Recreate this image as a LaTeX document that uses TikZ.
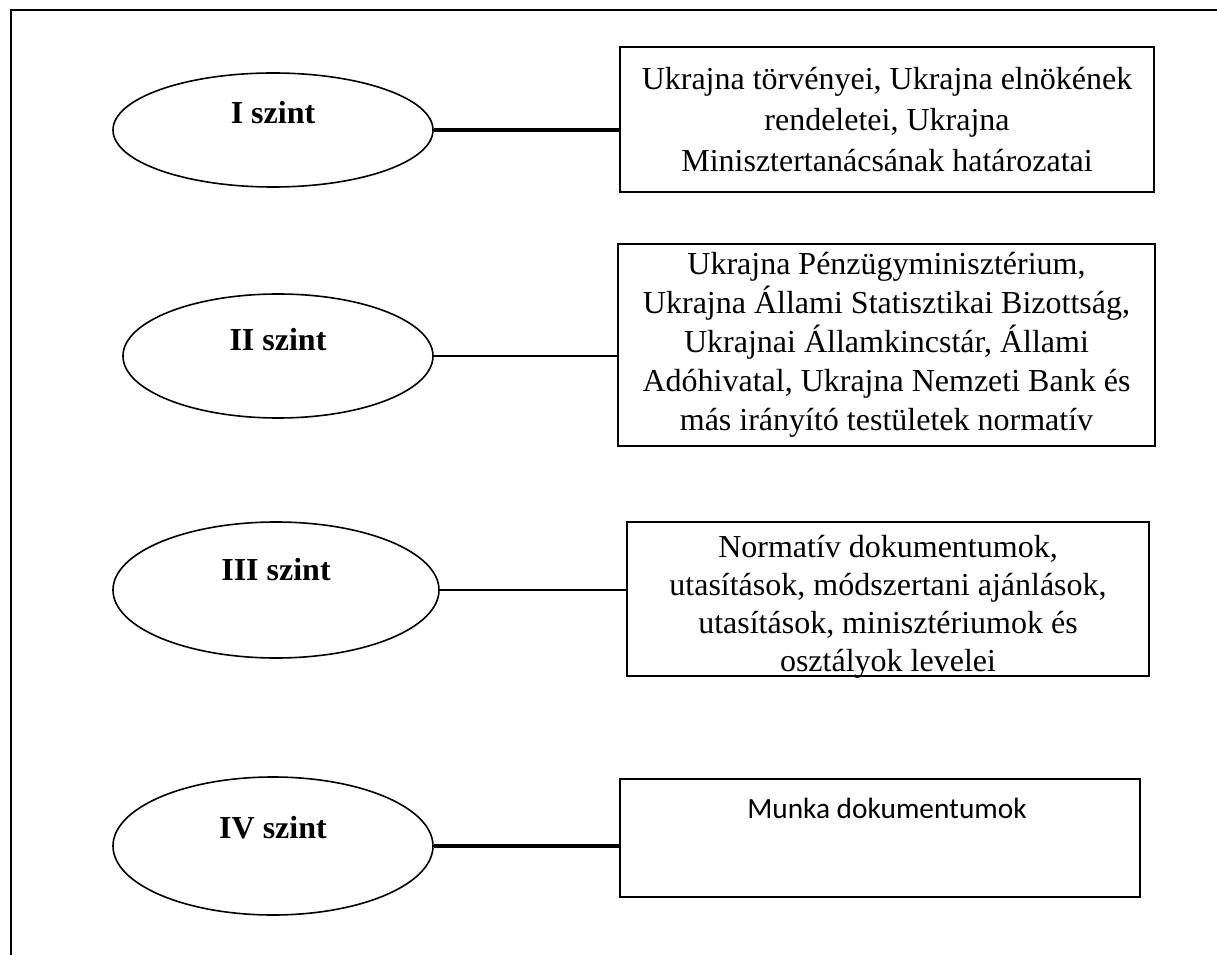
\documentclass[tikz,border=0pt]{standalone}
\usepackage{fontspec}
\setmainfont{Liberation Serif}
\newfontfamily\calibrifont{Carlito}
\usetikzlibrary{shapes.geometric}
\begin{document}
\begin{tikzpicture}[x=0.75pt,y=-0.75pt,
  lvl/.style={draw, ellipse, line width=1.2pt, inner sep=0pt},
  lvltext/.style={font=\fontsize{24}{29}\selectfont\bfseries, inner sep=0pt},
  docbox/.style={draw, line width=1.3pt, inner sep=0pt, align=center, font=\fontsize{24}{31}\selectfont},
  doctext/.style={inner sep=0pt, align=center},
  linkA/.style={line width=2.5pt},
  linkB/.style={line width=1.3pt},
  framestyle/.style={line width=1.5pt}]
\useasboundingbox (0,0) rectangle (1217,955);
% frame
\draw[framestyle] (11,955) -- (11,10) -- (1217,10);
% level ellipses
\node[lvl, minimum width=320*0.75pt, minimum height=114*0.75pt] (e1) at (273,130) {};
\node[lvltext] (t1) at (273,113) {I szint};
\node[lvl, minimum width=310*0.75pt, minimum height=124*0.75pt] (e2) at (278,356) {};
\node[lvltext] (t2) at (278,340) {II szint};
\node[lvl, minimum width=326*0.75pt, minimum height=136*0.75pt] (e3) at (276,590) {};
\node[lvltext] (t3) at (276,570) {III szint};
\node[lvl, minimum width=320*0.75pt, minimum height=138*0.75pt] (e4) at (273,846) {};
\node[lvltext] (t4) at (273,828) {IV szint};
% boxes
\node[docbox, minimum width=534*0.75pt, minimum height=145*0.75pt] (b1) at (887,119.5)
  {Ukrajna törvényei, Ukrajna elnökének\\ rendeletei, Ukrajna\\ Minisztertanácsának határozatai};
\node[docbox, font=\fontsize{24}{29.3}\selectfont, minimum width=537*0.75pt, minimum height=202*0.75pt] (b2) at (886.5,345)
  {Ukrajna Pénzügyminisztérium,\\ Ukrajna Állami Statisztikai Bizottság,\\ Ukrajnai Államkincstár, Állami\\ Adóhivatal, Ukrajna Nemzeti Bank és\\ más irányító testületek normatív};
\node[docbox, minimum width=522*0.75pt, minimum height=154*0.75pt] (b3) at (888,599) {};
\node[doctext, font=\fontsize{24}{28.5}\selectfont] (b3t) at (888,607)
  {Normatív dokumentumok,\\ utasítások, módszertani ajánlások,\\ utasítások, minisztériumok és\\ osztályok levelei};
\node[docbox, minimum width=520*0.75pt, minimum height=118*0.75pt] (b4) at (880,838) {};
\node[font=\calibrifont\fontsize{22}{26}\selectfont, inner sep=0pt] (m4) at (887,808) {Munka dokumentumok};
% connectors
\draw[linkA] (e1.east) -- (e1.east -| b1.west);
\draw[linkB] (e2.east) -- (e2.east -| b2.west);
\draw[linkB] (e3.east) -- (e3.east -| b3.west);
\draw[linkA] (e4.east) -- (e4.east -| b4.west);
\end{tikzpicture}
\end{document}
